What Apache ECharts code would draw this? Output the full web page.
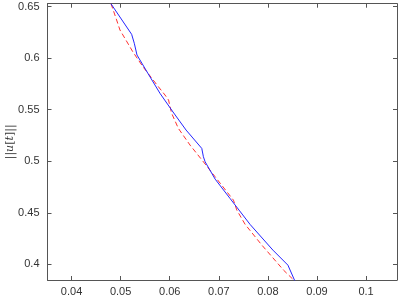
<!DOCTYPE html>
<html>
<head>
<meta charset="utf-8">
<script src="https://cdn.jsdelivr.net/npm/echarts@6/dist/echarts.min.js"></script>
<style>html,body{margin:0;padding:0;background:#fff}#c{width:399px;height:299px}</style>
</head>
<body>
<div id="c"></div>
<script>
var blueX = [0.04802, 0.05224, 0.05278, 0.05333, 0.05557, 0.05802, 0.06067, 0.06333, 0.06653, 0.06686, 0.06721, 0.06925, 0.07231, 0.07639, 0.08102, 0.08408, 0.08550];
var blueY = [0.6529, 0.6232, 0.6145, 0.6031, 0.5852, 0.5659, 0.5478, 0.5303, 0.5125, 0.5044, 0.4995, 0.4827, 0.4638, 0.4386, 0.4138, 0.3992, 0.3838];
var redX = [0.04804, 0.04918, 0.04986, 0.05251, 0.05455, 0.05741, 0.05904, 0.05976, 0.06037, 0.06176, 0.06414, 0.06686, 0.06924, 0.07298, 0.07367, 0.07537, 0.07878, 0.08318, 0.08537];
var redY = [0.6529, 0.6371, 0.6274, 0.6060, 0.5917, 0.5740, 0.5643, 0.5594, 0.5468, 0.5319, 0.5157, 0.4995, 0.4850, 0.4623, 0.4526, 0.4387, 0.4186, 0.3944, 0.3842];
var xTicks = [0.04, 0.05, 0.06, 0.07, 0.08, 0.09, 0.1];
var yTicks = [0.4, 0.45, 0.5, 0.55, 0.6, 0.65];
var xRange = [0.0351, 0.1063];
var yRange = [0.3848, 0.6529];

function pairs(xs, ys) { return xs.map(function (x, i) { return [x, ys[i]]; }); }

var axisCol = '#555';
var labelStyle = { color: '#333', fontSize: 11, fontFamily: 'Liberation Sans, Arial, sans-serif' };

function xAx(pos, showLabel) {
  return {
    type: 'value', position: pos, min: xRange[0], max: xRange[1],
    axisLine: { show: true, onZero: false, lineStyle: { color: axisCol, width: 1 } },
    axisTick: { show: true, inside: true, length: 4, customValues: xTicks, lineStyle: { color: axisCol } },
    axisLabel: Object.assign({ show: showLabel, customValues: xTicks, margin: 6,
      formatter: function (v) { return String(+v.toFixed(3)); } }, labelStyle),
    splitLine: { show: false }
  };
}
function yAx(pos, showLabel) {
  var o = {
    type: 'value', position: pos, min: yRange[0], max: yRange[1],
    axisLine: { show: true, onZero: false, lineStyle: { color: axisCol, width: 1 } },
    axisTick: { show: true, inside: true, length: 4, customValues: yTicks, lineStyle: { color: axisCol } },
    axisLabel: Object.assign({ show: showLabel, customValues: yTicks, margin: 8,
      formatter: function (v) { return String(+v.toFixed(3)); } }, labelStyle),
    splitLine: { show: false }
  };
  if (showLabel) {
    o.name = '{n|||}{i|u}{n|[}{i|t}{n|]||}';
    o.nameLocation = 'middle';
    o.nameGap = 32;
    o.nameMoveOverlap = false;
    o.nameRotate = 90;
    o.nameTextStyle = {
      rich: {
        n: { color: '#333', fontSize: 11, fontFamily: 'DejaVu Serif, serif' },
        i: { color: '#333', fontSize: 11, fontStyle: 'italic', fontFamily: 'DejaVu Serif, serif' }
      }
    };
  }
  return o;
}

var chart = echarts.init(document.getElementById('c'), null, { renderer: 'canvas' });
chart.setOption({
  animation: false,
  backgroundColor: '#fff',
  grid: { left: 47.5, right: 2, top: 3.7, bottom: 19, containLabel: false, outerBoundsMode: 'none' },
  xAxis: [xAx('bottom', true), xAx('top', false)],
  yAxis: [yAx('left', true), yAx('right', false)],
  series: [
    { type: 'line', xAxisIndex: 0, yAxisIndex: 0, data: pairs(redX, redY), showSymbol: false,
      lineStyle: { color: '#ff3030', width: 1, type: [5, 3] }, clip: true },
    { type: 'line', xAxisIndex: 0, yAxisIndex: 0, data: pairs(blueX, blueY), showSymbol: false,
      lineStyle: { color: '#2525ff', width: 1 }, clip: true }
  ]
});
</script>
</body>
</html>
